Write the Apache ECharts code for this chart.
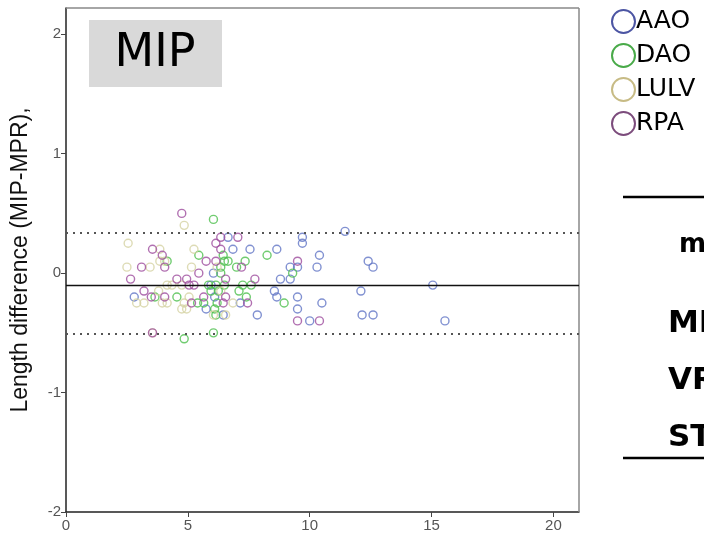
<!DOCTYPE html>
<html>
<head>
<meta charset="utf-8">
<script src="https://cdn.jsdelivr.net/npm/echarts@6/dist/echarts.min.js"></script>
<style>
  html, body { margin: 0; padding: 0; background: #fff; }
  #chart { width: 704px; height: 540px; }
</style>
</head>
<body>
<div id="chart"></div>
<script>
// x = mean length, y = length difference (MIP-MPR)
var aaoPoints = [
  [2.8, -0.2], [5.75, -0.3], [5.95, -0.1], [6.05, 0], [6.1, -0.2], [6.45, -0.35],
  [6.65, 0.3], [6.85, 0.2], [7.15, -0.25], [7.55, 0.2], [7.85, -0.35], [8.55, -0.15],
  [8.65, 0.2], [8.65, -0.2], [8.8, -0.05], [9.2, 0.05], [9.2, -0.05], [9.5, 0.05],
  [9.5, -0.2], [9.5, -0.3], [9.7, 0.3], [9.7, 0.25], [10.0, -0.4], [10.3, 0.05],
  [10.4, 0.15], [10.5, -0.25], [11.45, 0.35], [12.1, -0.15], [12.15, -0.35], [12.4, 0.1],
  [12.6, 0.05], [12.6, -0.35], [15.05, -0.1], [15.55, -0.4]
];
var daoPoints = [
  [3.65, -0.2], [4.15, 0.1], [4.55, -0.2], [4.85, -0.55], [5.4, -0.25], [5.45, 0.15],
  [5.65, -0.25], [5.85, -0.1], [5.95, -0.15], [6.05, 0.45], [6.05, -0.5], [6.1, -0.3],
  [6.15, -0.35], [6.15, -0.1], [6.2, -0.25], [6.25, -0.15], [6.35, 0.05], [6.35, 0],
  [6.45, 0.15], [6.5, 0.1], [6.5, -0.1], [6.65, 0.1], [7.0, 0.05], [7.1, -0.15],
  [7.25, -0.1], [7.35, 0.1], [7.4, -0.2], [7.6, -0.1], [8.25, 0.15], [8.95, -0.25],
  [9.3, 0]
];
var lulvPoints = [
  [2.5, 0.05], [2.55, 0.25], [2.9, -0.25], [3.2, -0.25], [3.45, 0.05], [3.55, -0.5],
  [3.8, -0.15], [3.85, 0.2], [3.85, 0.1], [3.95, -0.25], [4.05, 0.1], [4.15, -0.1],
  [4.15, -0.25], [4.35, -0.1], [4.75, -0.1], [4.75, -0.3], [4.85, 0.4], [4.85, -0.25],
  [4.95, -0.3], [5.05, -0.2], [5.15, 0.05], [5.25, 0.2], [6.05, -0.35], [6.2, 0.05],
  [6.35, -0.15], [6.55, -0.35], [6.85, -0.25]
];
var rpaPoints = [
  [2.65, -0.05], [3.1, 0.05], [3.2, -0.15], [3.5, -0.2], [3.55, 0.2], [3.55, -0.5],
  [3.95, 0.15], [4.05, 0.05], [4.05, -0.2], [4.55, -0.05], [4.75, 0.5], [4.95, -0.05],
  [5.05, -0.1], [5.15, -0.25], [5.25, -0.1], [5.45, 0], [5.65, -0.2], [5.75, 0.1],
  [6.15, 0.1], [6.15, 0.25], [6.35, 0.3], [6.35, 0.2], [6.55, -0.05], [6.55, -0.2],
  [6.45, -0.25], [7.05, 0.3], [7.2, 0.05], [7.45, -0.25], [7.75, -0.05], [9.5, 0.1],
  [9.5, -0.4], [10.4, -0.4]
];
var seriesNames = ['AAO', 'DAO', 'LULV', 'RPA'];
var meanDiff = -0.1;
var upperLimit = 0.345;
var lowerLimit = -0.51;
var xTicks = [0, 5, 10, 15, 20];
var yTicks = [-2, -1, 0, 1, 2];
var tableRows = ['MIP', 'VRT', 'STD'];

var chart = echarts.init(document.getElementById('chart'));

var pointColors = ['#6175c6', '#4cbf4c', '#d5d2a2', '#9e4c9e'];
var legendColors = ['#1f2a8c', '#1c951c', '#b9aa66', '#5b1f5b'];
var allPoints = [aaoPoints, daoPoints, lulvPoints, rpaPoints];

var series = seriesNames.map(function (name, i) {
  return {
    name: name,
    type: 'scatter',
    data: allPoints[i],
    symbol: 'circle',
    symbolSize: 8,
    itemStyle: {
      color: 'rgba(0,0,0,0)',
      borderColor: pointColors[i],
      borderWidth: 1.4
    },
    emphasis: { disabled: true },
    z: 3
  }
})

// mean and limits of agreement
series.push({
  name: 'limits',
  type: 'line',
  data: [],
  silent: true,
  markLine: {
    symbol: 'none',
    silent: true,
    label: { show: false },
    data: [
      { yAxis: meanDiff, lineStyle: { type: 'solid', color: '#111', width: 1.3 } },
      { yAxis: upperLimit, lineStyle: { type: [2, 5], color: '#555', width: 2 } },
      { yAxis: lowerLimit, lineStyle: { type: [2, 5], color: '#555', width: 2 } }
    ]
  }
})

var tickFont = 'Liberation Sans Narrow, Liberation Sans, Arial, sans-serif';
var boldFont = 'Verdana, DejaVu Sans, sans-serif';

chart.setOption({
  animation: false,
  backgroundColor: '#fff',
  grid: { left: 66, right: 125, top: 8, bottom: 28 },
  legend: {
    orient: 'vertical',
    left: 606,
    top: 4,
    itemGap: 9,
    itemWidth: 23,
    itemHeight: 23,
    icon: 'circle',
    selectedMode: false,
    textStyle: { fontSize: 25, color: '#000', fontFamily: boldFont, padding: [0, 0, 0, -4] },
    data: seriesNames.map(function (name, i) {
      return {
        name: name,
        itemStyle: { color: 'rgba(0,0,0,0)', borderColor: legendColors[i], borderWidth: 2 }
      }
    })
  },
  xAxis: {
    type: 'value',
    min: 0,
    max: 21.05,
    interval: 5,
    splitLine: { show: false },
    axisLine: { show: true, onZero: false, lineStyle: { color: '#222', width: 1.5 } },
    axisTick: { show: true, length: 5, customValues: xTicks, lineStyle: { color: '#444' } },
    axisLabel: { color: '#555', fontSize: 15, fontFamily: tickFont, margin: 6, customValues: xTicks }
  },
  yAxis: {
    type: 'value',
    min: -2,
    max: 2.22,
    interval: 1,
    name: 'Length difference (MIP-MPR),',
    nameLocation: 'middle',
    nameGap: 34,
    nameTextStyle: { fontSize: 23, color: '#111', fontFamily: 'Liberation Sans, Arial, sans-serif' },
    splitLine: { show: false },
    axisLine: { show: true, onZero: false, lineStyle: { color: '#222', width: 1.5 } },
    axisTick: { show: true, length: 5, customValues: yTicks, lineStyle: { color: '#444' } },
    axisLabel: { color: '#555', fontSize: 15, fontFamily: tickFont, margin: 5, customValues: yTicks }
  },
  graphic: [
    // top and right frame
    { type: 'line', shape: { x1: 66, y1: 8, x2: 579, y2: 8 }, style: { stroke: '#888', lineWidth: 1.5 }, z: 1 },
    { type: 'line', shape: { x1: 579, y1: 8, x2: 579, y2: 512 }, style: { stroke: '#888', lineWidth: 1.5 }, z: 1 },
    // panel label
    { type: 'rect', shape: { x: 89, y: 20, width: 133, height: 67 }, style: { fill: '#d9d9d9' }, z: 2 },
    { type: 'text', x: 155, y: 54, style: { text: 'MIP', fontSize: 46, fontFamily: boldFont, fill: '#000', align: 'center', verticalAlign: 'middle' }, z: 3 },
    // clipped table on the right
    { type: 'line', shape: { x1: 623, y1: 197, x2: 704, y2: 197 }, style: { stroke: '#000', lineWidth: 2.5 } },
    { type: 'line', shape: { x1: 623, y1: 458, x2: 704, y2: 458 }, style: { stroke: '#000', lineWidth: 2.5 } },
    { type: 'text', x: 679, y: 245, style: { text: 'mean', fontSize: 26, fontWeight: 'bold', fontFamily: boldFont, fill: '#000', verticalAlign: 'middle' } },
    { type: 'text', x: 668, y: 324, style: { text: tableRows[0], fontSize: 31, fontWeight: 'bold', fontFamily: boldFont, fill: '#000', verticalAlign: 'middle' } },
    { type: 'text', x: 668, y: 381, style: { text: tableRows[1], fontSize: 31, fontWeight: 'bold', fontFamily: boldFont, fill: '#000', verticalAlign: 'middle' } },
    { type: 'text', x: 668, y: 438, style: { text: tableRows[2], fontSize: 31, fontWeight: 'bold', fontFamily: boldFont, fill: '#000', verticalAlign: 'middle' } }
  ],
  series: series
})
</script>
</body>
</html>
